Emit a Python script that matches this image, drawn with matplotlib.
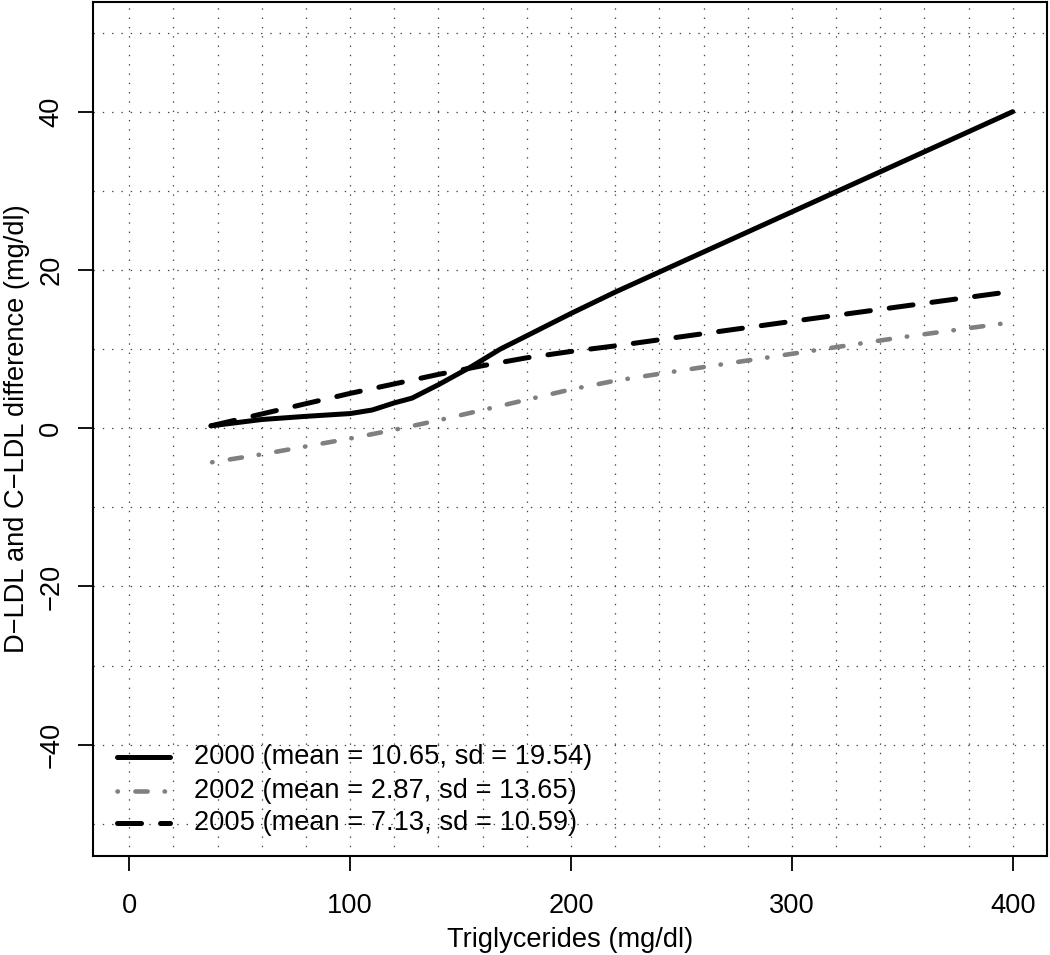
import matplotlib
matplotlib.use("Agg")
import matplotlib.pyplot as plt

plt.rcParams['font.family'] = ['Liberation Sans', 'DejaVu Sans']
plt.rcParams['lines.scale_dashes'] = False

# ---- data ----
x2000 = [37, 60, 80, 100, 110, 120, 128, 140, 155, 168, 178, 200, 220, 400]
y2000 = [0.3, 1.1, 1.5, 1.85, 2.3, 3.2, 3.8, 5.5, 7.8, 10.0, 11.4, 14.5, 17.2, 40.0]

x2002 = [37.5, 60, 80, 100, 120, 140, 160, 180, 200, 220, 250, 300, 350, 400]
y2002 = [-4.3, -3.3, -2.3, -1.3, -0.2, 1.0, 2.3, 3.6, 4.9, 6.0, 7.3, 9.4, 11.5, 13.4]

x2005 = [37, 60, 80, 100, 120, 140, 160, 180, 200, 220, 300, 400]
y2005 = [0.3, 1.8, 3.1, 4.4, 5.6, 6.8, 7.9, 8.9, 9.7, 10.4, 13.5, 17.3]

labels = ["2000 (mean = 10.65, sd = 19.54)",
          "2002 (mean = 2.87, sd = 13.65)",
          "2005 (mean = 7.13, sd = 10.59)"]

xticks = [0, 100, 200, 300, 400]
yticks = [-40, -20, 0, 20, 40]
grid_x = list(range(0, 401, 20))
grid_y = list(range(-50, 51, 10))

FS = 19.6

fig = plt.figure(figsize=(10.5, 9.55), dpi=100)
ax = fig.add_axes([93.3 / 1050, 1 - 855.5 / 955, (1046.7 - 93.3) / 1050, (855.5 - 1.7) / 955])
ax.set_xlim(-16.3, 415.4)
ax.set_ylim(-54.0, 53.9)

grid_style = dict(color='#444444', lw=0.9, linestyle=(0, (1.0, 5.7)), zorder=1)
for gx in grid_x:
    ax.axvline(gx, **grid_style)
for gy in grid_y:
    ax.axhline(gy, **grid_style)

styles = [
    dict(color='black', lw=3.6, linestyle='-', solid_capstyle='round'),
    dict(color='#808080', lw=3.3, linestyle=(0, (0.3, 12.6, 8.8, 12.2)), dash_capstyle='round'),
    dict(color='black', lw=3.6, linestyle=(0, (17.3, 13.7)), dash_capstyle='round'),
]
series = [(x2000, y2000), (x2002, y2002), (x2005, y2005)]
for (xs, ys), st in zip(series, styles):
    ax.plot(xs, ys, solid_joinstyle='round', dash_joinstyle='round', zorder=3, **st)

# legend (no box)
rows = [0.1154, 0.0761, 0.0377]
for yr, st, lab in zip(rows, styles, labels):
    ax.plot([0.0249, 0.0805], [yr, yr], transform=ax.transAxes, zorder=4, **st)
    ax.text(0.1056, yr, lab, transform=ax.transAxes, fontsize=FS, va='center', ha='left', zorder=4)

for sp in ax.spines.values():
    sp.set_linewidth(1.5)

ax.set_xticks(xticks)
ax.set_yticks(yticks)
ax.tick_params(axis='both', direction='out', length=11, width=1.3, labelsize=FS)
ax.tick_params(axis='x', pad=16)
ax.tick_params(axis='y', pad=10)
for lab in ax.get_yticklabels():
    lab.set_rotation(90)
    lab.set_va('center')

ax.set_xlabel("Triglycerides (mg/dl)", fontsize=FS)
ax.xaxis.set_label_coords(0.5, (855.5 - 940) / 853.8)
ax.xaxis.label.set_va('center')
ax.set_ylabel("D\u2212LDL and C\u2212LDL difference (mg/dl)", fontsize=FS)
ax.yaxis.set_label_coords((17 - 93.3) / 953.4, 0.5)
ax.yaxis.label.set_va('center')

fig.savefig("out.png", dpi=100)
